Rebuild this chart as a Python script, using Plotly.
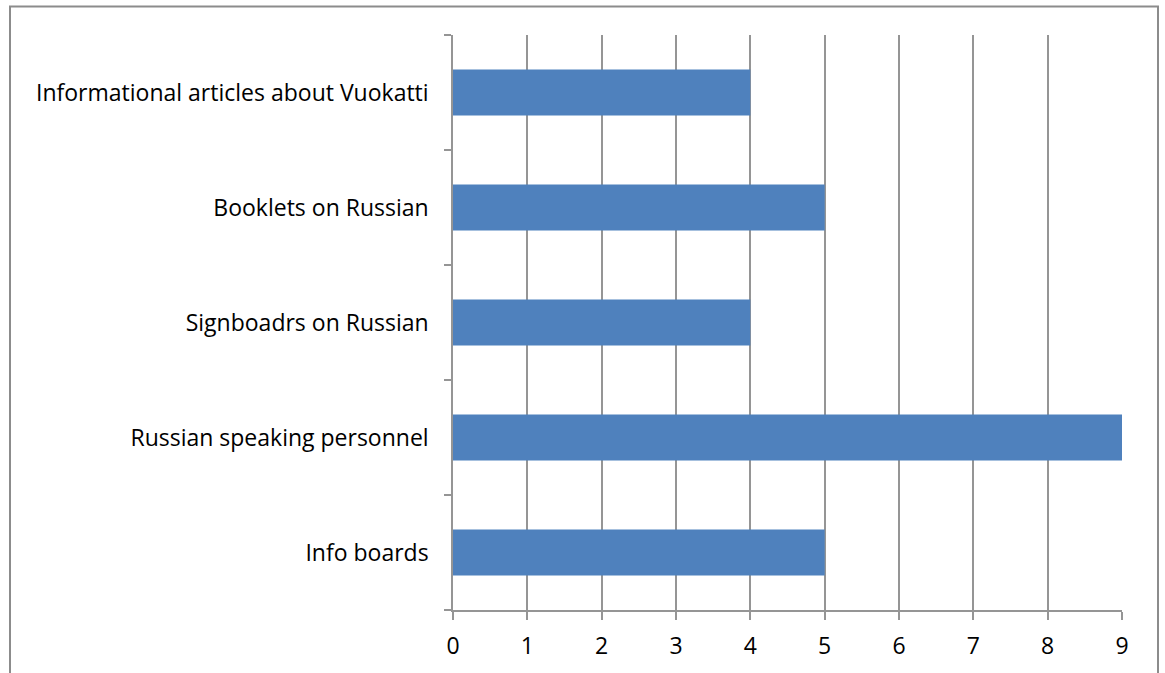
import plotly.graph_objects as go

categories = ["Info boards", "Russian speaking personnel", "Signboadrs on Russian",
              "Booklets on Russian", "Informational articles about Vuokatti"]
values = [5, 9, 4, 5, 4]
x_ticks = [0, 1, 2, 3, 4, 5, 6, 7, 8, 9]

W, H = 1165, 673
L, R, T, B = 453, 43, 35, 63
pw, ph = W - L - R, H - T - B

grid = "#959595"
font = dict(family="Open Sans, Liberation Sans, sans-serif", size=23, color="#000000")

fig = go.Figure(go.Bar(
    x=values, y=categories, orientation="h",
    marker=dict(color="#4F81BD", line=dict(width=0)),
    width=0.4,
))

fig.update_layout(
    width=W, height=H,
    margin=dict(l=L, r=R, t=T, b=B, pad=0),
    paper_bgcolor="white", plot_bgcolor="white",
    showlegend=False,
    font=font,
    xaxis=dict(range=[0, 9], tickvals=x_ticks, showgrid=True, gridcolor=grid, gridwidth=1.5,
               showline=True, linecolor=grid, linewidth=1.5, ticks="outside", ticklen=8,
               tickcolor=grid, tickwidth=1.5, zeroline=False, tickfont=font, fixedrange=True,
               ticklabelstandoff=7),
    yaxis=dict(type="category", categoryorder="array", categoryarray=categories,
               range=[-0.5, 4.5], showgrid=False, showline=True, linecolor=grid, linewidth=1.5,
               ticks="outside", ticklen=7, tickcolor=grid, tickwidth=1.5, tickson="boundaries",
               tickfont=font, ticklabelstandoff=18, fixedrange=True),
    shapes=[dict(type="rect", xref="paper", yref="paper",
                 x0=(10 - L) / pw, x1=(1158 - L) / pw,
                 y0=(H - B - 690) / ph, y1=(H - B - 6.5) / ph,
                 line=dict(color="#8c8c8c", width=2), fillcolor="rgba(0,0,0,0)", layer="below")],
)

fig.write_html("out.html", config={"displayModeBar": False},
               post_script="document.body.style.margin='0';document.body.style.overflow='hidden';")
